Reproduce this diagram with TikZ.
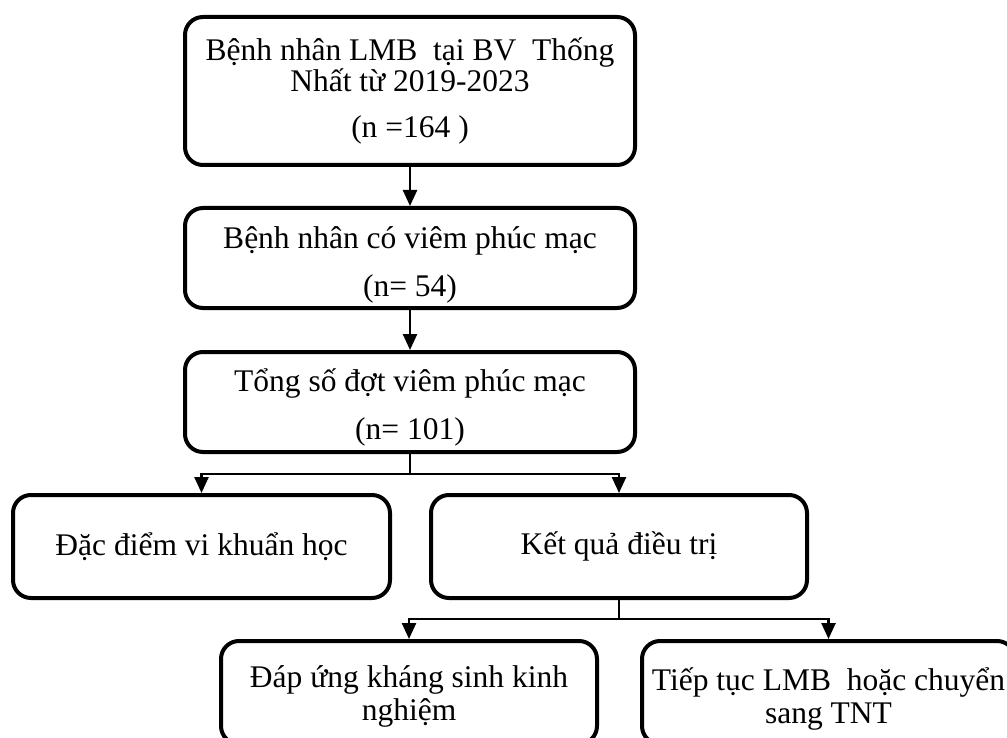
\documentclass[tikz,border=0pt]{standalone}
\usepackage{fontspec}
\setmainfont{Liberation Serif}
\usetikzlibrary{arrows.meta}
\begin{document}
\begin{tikzpicture}[x=1pt,y=-1pt,
  box/.style={draw, line width=4pt, rounded corners=18pt, align=center, inner sep=0pt,
              font=\fontsize{31.5}{29}\selectfont},
  arr/.style={line width=2.5pt, -{Triangle[width=14pt,length=16pt]}},
  ln/.style={line width=2.5pt}]
\useasboundingbox (0,0) rectangle (1007,738);
\clip (0,0) rectangle (1007,738);
\node[box, minimum width=450pt, minimum height=148pt] (b1) at (410,91)
  {Bệnh nhân LMB\ \ tại BV\ \ Thống\\Nhất từ 2019-2023\\[17pt](n =164 )};
\node[box, minimum width=450pt, minimum height=100pt] (b2) at (410,258)
  {\rule{0pt}{36pt}Bệnh nhân có viêm phúc mạc\\[19pt](n= 54)};
\node[box, minimum width=450pt, minimum height=100pt] (b3) at (410,402)
  {\rule{0pt}{34pt}Tổng số đợt viêm phúc mạc\\[19pt](n= 101)};
\node[box, minimum width=377pt, minimum height=103pt] (b4) at (201.5,546.5)
  {Đặc điểm vi khuẩn học};
\node[box, minimum width=376pt, minimum height=103pt] (b5) at (619,546.5)
  {Kết quả điều trị};
\node[box, minimum width=376pt, minimum height=103pt, font=\fontsize{31.5}{33}\selectfont] (b6) at (409,692.5)
  {\rule{0pt}{30pt}Đáp ứng kháng sinh kinh\\nghiệm};
\node[box, minimum width=373pt, minimum height=103pt, font=\fontsize{31.5}{33}\selectfont] (b7) at (828.5,692.5)
  {\rule{0pt}{36pt}Tiếp tục LMB\ \ hoặc chuyển\\sang TNT};
\draw[arr] (b1) -- (b2);
\draw[arr] (b2) -- (b3);
\coordinate (j1) at (410,474);
\draw[ln] (b3.south) -- (j1);
\draw[arr] (j1) -| (b4.north);
\draw[arr] (j1) -| (b5.north);
\coordinate (j2) at (619,619);
\draw[ln] (b5.south) -- (j2);
\draw[arr] (j2) -| (b6.north);
\draw[arr] (j2) -| (b7.north);
\end{tikzpicture}
\end{document}
